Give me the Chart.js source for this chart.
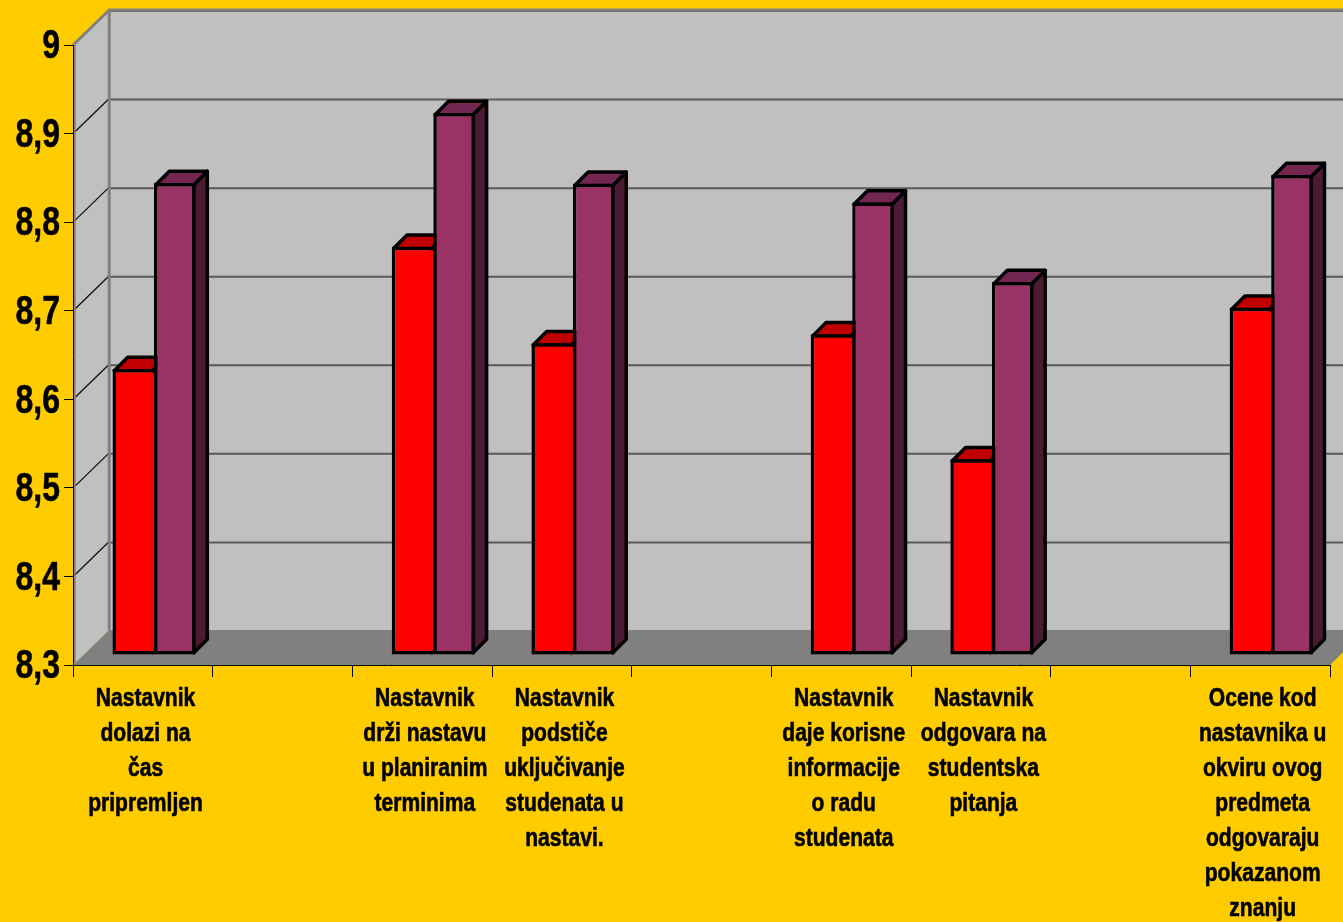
<!DOCTYPE html>
<html>
<head>
<meta charset="utf-8">
<style>
  html, body { margin: 0; padding: 0; background: #FFCC00; overflow: hidden; }
  canvas { display: block; }
</style>
<script src="https://cdn.jsdelivr.net/npm/chart.js@4"></script>
</head>
<body>
<canvas id="chart" width="1343" height="922"></canvas>
<script>
const categories = [
  ['Nastavnik', 'dolazi na', 'čas', 'pripremljen'],
  '',
  ['Nastavnik', 'drži nastavu', 'u planiranim', 'terminima'],
  ['Nastavnik', 'podstiče', 'uključivanje', 'studenata u', 'nastavi.'],
  '',
  ['Nastavnik', 'daje korisne', 'informacije', 'o radu', 'studenata'],
  ['Nastavnik', 'odgovara na', 'studentska', 'pitanja'],
  '',
  ['Ocene kod', 'nastavnika u', 'okviru ovog', 'predmeta', 'odgovaraju', 'pokazanom', 'znanju']
];
const redValues = [8.623, null, 8.761, 8.652, null, 8.662, 8.521, null, 8.692];
const purpleValues = [8.833, null, 8.912, 8.832, null, 8.811, 8.721, null, 8.842];
const yTickLabels = ['8,3', '8,4', '8,5', '8,6', '8,7', '8,8', '8,9', '9'];

const fontName = '"Liberation Sans", Arial, sans-serif';

// 3d look: wall depth and how far the bars sit inside the box
const wallDepthX = 36, wallDepthY = 35;
const barShiftX = 11, barShiftY = 10;
const barDepth = 13.5;
const lw = 3.5;

function poly(ctx, pts, fill, stroke, width) {
  ctx.beginPath();
  pts.forEach((p, i) => i ? ctx.lineTo(p[0], p[1]) : ctx.moveTo(p[0], p[1]));
  ctx.closePath();
  if (fill) { ctx.fillStyle = fill; ctx.fill(); }
  if (stroke) { ctx.strokeStyle = stroke; ctx.lineWidth = width; ctx.stroke(); }
}

function line(ctx, x1, y1, x2, y2, color, width) {
  ctx.beginPath();
  ctx.moveTo(x1, y1);
  ctx.lineTo(x2, y2);
  ctx.strokeStyle = color;
  ctx.lineWidth = width;
  ctx.stroke();
}

// the narrow bold text of the original: no narrow font here, so squeeze it
function squeezedText(ctx, text, x, y, size, squeeze, align) {
  ctx.save();
  ctx.font = 'bold ' + size + 'px ' + fontName;
  ctx.textAlign = align;
  ctx.textBaseline = 'middle';
  ctx.fillStyle = '#000';
  ctx.strokeStyle = '#000';
  ctx.lineWidth = 0.6;
  ctx.translate(x, y);
  ctx.scale(squeeze, 1);
  ctx.fillText(text, 0, 0);
  ctx.strokeText(text, 0, 0);
  ctx.restore();
}

const walls = {
  id: 'walls',
  beforeDraw(chart) {
    const ctx = chart.ctx, a = chart.chartArea, y = chart.scales.y;
    const dx = wallDepthX, dy = wallDepthY;
    ctx.save();
    // back wall
    poly(ctx, [[a.left + dx, a.top - dy], [a.right + dx, a.top - dy], [a.right + dx, a.bottom - dy], [a.left + dx, a.bottom - dy]], '#C0C0C0');
    // side wall
    poly(ctx, [[a.left, a.top], [a.left + dx, a.top - dy], [a.left + dx, a.bottom - dy], [a.left, a.bottom]], '#C0C0C0');
    // floor
    poly(ctx, [[a.left, a.bottom], [a.left + dx, a.bottom - dy], [a.right + dx, a.bottom - dy], [a.right, a.bottom]], '#808080');
    // grid lines on both walls
    y.ticks.forEach((t, i) => {
      const py = y.getPixelForTick(i);
      if (i > 0) line(ctx, a.left + dx, py - dy + 1, a.right + dx, py - dy + 1, '#5A5A5A', 2);
      if (i > 0 && i < y.ticks.length - 1) line(ctx, a.left, py, a.left + dx, py - dy, '#101010', 1.3);
    });
    // wall edges
    line(ctx, a.left, a.top, a.left + dx, a.top - dy, '#808080', 3);
    line(ctx, a.left + dx - 1, a.top - dy, a.right + dx, a.top - dy, '#808080', 3);
    line(ctx, a.left + dx, a.top - dy, a.left + dx, a.bottom - dy, '#808080', 3);
    line(ctx, a.left + 1.5, a.top, a.left + 1.5, a.bottom - 2, '#808080', 2);
    ctx.restore();
  },
  beforeDatasetsDraw(chart) {
    const ctx = chart.ctx;
    ctx.save();
    ctx.translate(barShiftX, -barShiftY);
    ctx.lineJoin = 'round';
    const d = barDepth;
    // top and side faces go under the fronts
    chart.data.datasets.forEach((ds, di) => {
      chart.getDatasetMeta(di).data.forEach((bar, i) => {
        if (ds.data[i] === null) return;
        const p = bar.getProps(['x', 'y', 'base', 'width'], true);
        const l = p.x - p.width / 2 + lw / 2, r = p.x + p.width / 2 - lw / 2;
        const t = p.y + lw / 2, b = p.base - lw / 2;
        poly(ctx, [[r, t], [r + d, t - d], [r + d, b - d], [r, b]], ds.sideColor, '#000', lw);
        poly(ctx, [[l, t], [l + d, t - d], [r + d, t - d], [r, t]], ds.topColor, '#000', lw);
      });
    });
  },
  afterDatasetsDraw(chart) {
    chart.ctx.restore();
  },
  afterDraw(chart) {
    const ctx = chart.ctx, x = chart.scales.x, y = chart.scales.y;
    y.ticks.forEach((t, i) => {
      squeezedText(ctx, t.label, 60, y.getPixelForTick(i) + 2, 41, 0.78, 'right');
    });
    x.ticks.forEach((t, i) => {
      const lines = [].concat(t.label);
      lines.forEach((s, n) => {
        squeezedText(ctx, s, x.getPixelForTick(i) + 2.5, 699 + n * 35, 26, 0.81, 'center');
      });
    });
  }
};

new Chart(document.getElementById('chart'), {
  type: 'bar',
  plugins: [walls],
  data: {
    labels: categories,
    datasets: [
      {
        label: 'Serija 1',
        data: redValues,
        base: 8.3,
        backgroundColor: '#FF0000',
        topColor: '#C00000',
        sideColor: '#800000',
        borderColor: '#000',
        borderWidth: lw,
        borderSkipped: 'right',
        clip: false
      },
      {
        label: 'Serija 2',
        data: purpleValues,
        base: 8.3,
        backgroundColor: '#993366',
        topColor: '#732650',
        sideColor: '#4D1A33',
        borderColor: '#000',
        borderWidth: lw,
        borderSkipped: false,
        clip: false
      }
    ]
  },
  options: {
    responsive: false,
    animation: false,
    devicePixelRatio: 1,
    layout: { padding: { top: 45, right: 13, left: 0, bottom: 0 } },
    categoryPercentage: 0.595,
    barPercentage: 1,
    plugins: { legend: { display: false }, title: { display: false }, tooltip: { enabled: false } },
    scales: {
      x: {
        offset: true,
        grid: { offset: true, drawOnChartArea: false, drawTicks: true, tickLength: 12, color: '#000' },
        border: { color: '#000', width: 1 },
        ticks: { display: false, autoSkip: false, maxRotation: 0, minRotation: 0 },
        afterFit(scale) { scale.height = 922 - 665; }
      },
      y: {
        min: 8.3,
        max: 9,
        ticks: {
          display: false,
          stepSize: 0.1,
          callback(value, index) { return yTickLabels[index]; }
        },
        grid: { drawOnChartArea: false, drawTicks: true, tickLength: 9, color: '#000' },
        border: { color: '#000', width: 1 },
        afterFit(scale) { scale.width = 73.2; }
      }
    }
  }
});
</script>
</body>
</html>
